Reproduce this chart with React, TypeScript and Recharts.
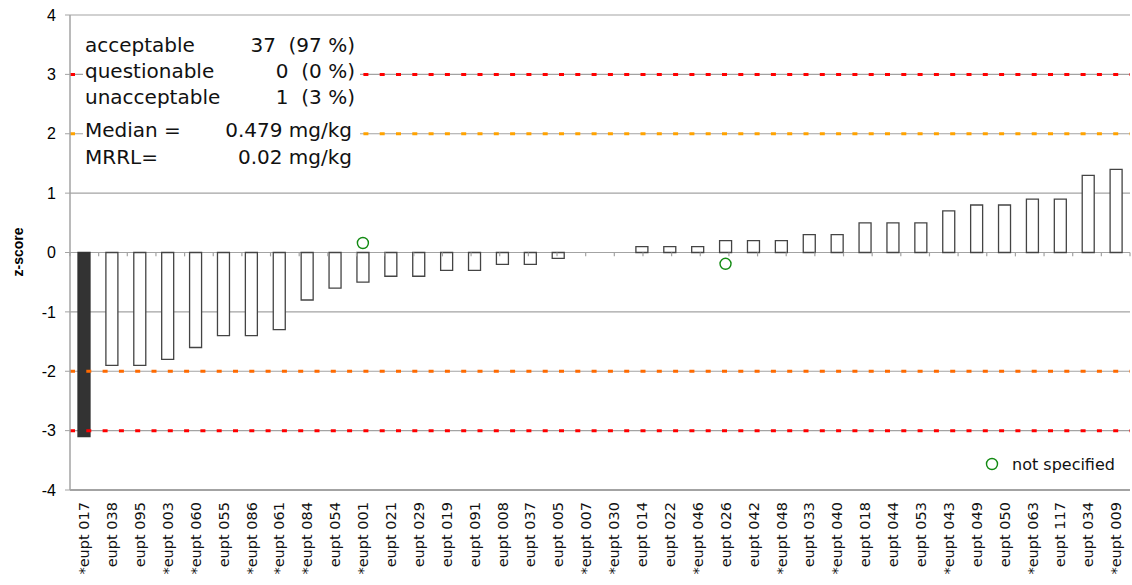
import React from 'react';
import {
  ComposedChart,
  Bar,
  Scatter,
  XAxis,
  YAxis,
  CartesianGrid,
  ReferenceLine,
  Cell,
} from 'recharts';

const labs: string[] = [
  '*eupt 017', 'eupt 038', 'eupt 095', '*eupt 003', '*eupt 060', 'eupt 055', '*eupt 086', '*eupt 061',
  '*eupt 084', 'eupt 054', '*eupt 001', 'eupt 021', 'eupt 029', 'eupt 019', 'eupt 091', 'eupt 008',
  'eupt 037', 'eupt 005', '*eupt 007', '*eupt 030', 'eupt 014', 'eupt 022', '*eupt 046', 'eupt 026',
  'eupt 042', '*eupt 048', 'eupt 033', '*eupt 040', 'eupt 018', 'eupt 044', 'eupt 053', '*eupt 043',
  'eupt 049', 'eupt 050', '*eupt 063', 'eupt 117', 'eupt 034', '*eupt 009',
];

const zScores: (number | null)[] = [
  -3.1, -1.9, -1.9, -1.8, -1.6, -1.4, -1.4, -1.3,
  -0.8, -0.6, -0.5, -0.4, -0.4, -0.3, -0.3, -0.2,
  -0.2, -0.1, null, null, 0.1, 0.1, 0.1, 0.2,
  0.2, 0.2, 0.3, 0.3, 0.5, 0.5, 0.5, 0.7,
  0.8, 0.8, 0.9, 0.9, 1.3, 1.4,
];

const notSpecified: (number | null)[] = [
  null, null, null, null, null, null, null, null,
  null, null, 0.16, null, null, null, null, null,
  null, null, null, null, null, null, null, -0.19,
  null, null, null, null, null, null, null, null,
  null, null, null, null, null, null,
];

const yTicks = [-4, -3, -2, -1, 0, 1, 2, 3, 4];

const statsLeft = ['acceptable', 'questionable', 'unacceptable'];
const statsRight = ['37  (97 %)', '0  (0 %)', '1  (3 %)'];
const infoLeft = ['Median =', 'MRRL='];
const infoRight = ['0.479 mg/kg', '0.02 mg/kg'];

const data = labs.map((lab, i) => ({ lab, z: zScores[i], ns: notSpecified[i] }));
const boundaries = Array.from({ length: labs.length + 1 }, (_, i) => i);

const GRID = '#a3a3a3';
const LABEL_FONT = '"DejaVu Sans", Verdana, sans-serif';
const DASH = '5 11.3';

const XTick = (props: any) => {
  const { x, y, payload } = props;
  return (
    <g transform={`translate(${x},${y + 12})`}>
      <text
        transform="rotate(-90)"
        textAnchor="end"
        dy="0.36em"
        fontSize={14.5}
        fontFamily={LABEL_FONT}
        fill="#111"
      >
        {payload.value}
      </text>
    </g>
  );
};

const Circle = (props: any) => {
  const { cx, cy, payload } = props;
  if (payload == null || payload.ns == null) return <g />;
  return <circle cx={cx} cy={cy} r={5.5} fill="none" stroke="#128a12" strokeWidth={1.4} />;
};

export default function App() {
  return (
    <div
      style={{
        position: 'absolute',
        left: 0,
        top: 0,
        width: 1132,
        height: 585,
        background: '#fff',
      }}
    >
      <ComposedChart
        width={1132}
        height={585}
        data={data}
        margin={{ top: 15, right: 2, bottom: 0, left: 0 }}
        barCategoryGap={0}
      >
        <CartesianGrid horizontal vertical={false} stroke={GRID} strokeWidth={1.2} />
        <XAxis
          dataKey="lab"
          type="category"
          interval={0}
          height={95}
          tickLine={false}
          tickSize={0}
          tickMargin={0}
          axisLine={{ stroke: GRID, strokeWidth: 2 }}
          tick={<XTick />}
        />
        <XAxis xAxisId="num" type="number" domain={[0, labs.length]} hide allowDataOverflow />
        <YAxis
          type="number"
          domain={[-4, 4]}
          ticks={yTicks}
          interval={0}
          width={70}
          tickSize={5}
          tickMargin={9}
          axisLine={{ stroke: GRID, strokeWidth: 1.5 }}
          tickLine={{ stroke: GRID }}
          tick={{ fill: '#000', fontSize: 16, fontFamily: '"Liberation Sans", Arial, sans-serif' }}
        />
        <Bar dataKey="z" barSize={12} fill="#fff" stroke="#444" strokeWidth={1.3} isAnimationActive={false}>
          {data.map((d, i) => (
            <Cell
              key={i}
              fill={d.z != null && Math.abs(d.z) > 3 ? '#333333' : '#ffffff'}
              stroke={d.z != null && Math.abs(d.z) > 3 ? '#333333' : '#444444'}
            />
          ))}
        </Bar>
        {boundaries.map((b) => (
          <ReferenceLine
            key={`t${b}`}
            xAxisId="num"
            segment={[
              { x: b, y: 0 },
              { x: b, y: -0.065 },
            ]}
            stroke={GRID}
            strokeWidth={1.2}
          />
        ))}
        <ReferenceLine xAxisId="num" x={labs.length} stroke={GRID} strokeWidth={2} />
        <ReferenceLine y={3} stroke="#ff0000" strokeWidth={3} strokeDasharray={DASH} />
        <ReferenceLine y={-3} stroke="#ff0000" strokeWidth={3} strokeDasharray={DASH} />
        <ReferenceLine y={2} stroke="#ffa200" strokeWidth={3} strokeDasharray={DASH} />
        <ReferenceLine y={-2} stroke="#ff6a00" strokeWidth={3} strokeDasharray={DASH} />
        <Scatter dataKey="ns" shape={<Circle />} isAnimationActive={false} />
      </ComposedChart>

      <svg
        width={1132}
        height={585}
        style={{ position: 'absolute', left: 0, top: 0, pointerEvents: 'none' }}
      >
        <g transform="translate(18,252) rotate(-90)">
          <text
            x={0}
            y={0}
            textAnchor="middle"
            dy="0.35em"
            style={{
              fontFamily: '"Liberation Sans", Arial, sans-serif',
              fontWeight: 700,
              fontSize: '14px',
            }}
            fill="#000"
          >
            z-score
          </text>
        </g>
        <rect x={83} y={28} width={277} height={145} fill="#fff" />
        <g fontFamily={LABEL_FONT} fontSize={20} fill="#111">
          {statsLeft.map((t, i) => (
            <text key={`sl${i}`} x={85} y={52 + i * 25.8}>
              {t}
            </text>
          ))}
          {statsRight.map((t, i) => (
            <text key={`sr${i}`} x={355} y={52 + i * 25.8} textAnchor="end" style={{ whiteSpace: 'pre' }}>
              {t}
            </text>
          ))}
          {infoLeft.map((t, i) => (
            <text key={`il${i}`} x={85} y={137 + i * 26.6}>
              {t}
            </text>
          ))}
          {infoRight.map((t, i) => (
            <text key={`ir${i}`} x={352} y={137 + i * 26.6} textAnchor="end">
              {t}
            </text>
          ))}
        </g>
        <circle cx={992} cy={464} r={5.5} fill="none" stroke="#128a12" strokeWidth={1.4} />
        <text x={1012} y={469.5} fontFamily={LABEL_FONT} fontSize={16} fill="#111">
          not specified
        </text>
      </svg>
    </div>
  );
}
